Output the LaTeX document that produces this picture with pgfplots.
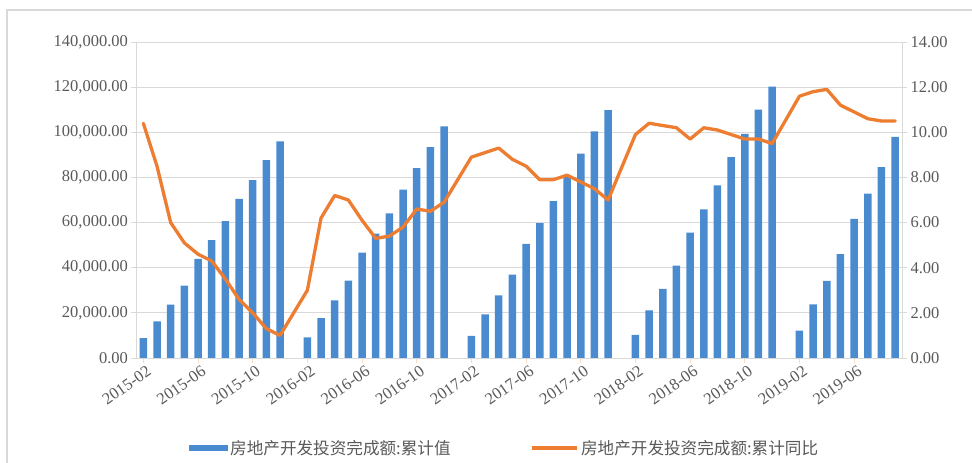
\documentclass[border=0pt]{standalone}
\usepackage{pgfplots}
\pgfplotsset{compat=1.18}
\usepackage{fontspec}
\setmainfont{Liberation Serif}
\newfontfamily\cjk{Noto Sans CJK SC}
\definecolor{barblue}{HTML}{4A8BD0}
\definecolor{lineorange}{HTML}{ED7D31}
\definecolor{gridgray}{HTML}{D9D9D9}
\definecolor{textgray}{HTML}{595959}
\begin{document}
\begin{tikzpicture}[x=1pt,y=1pt]
\useasboundingbox (0,0) rectangle (972,463);
\draw[gridgray, line width=1.2pt] (7,-20) -- (7,453) -- (990,453);
\begin{axis}[
  at={(143.33pt,105pt)}, anchor=origin,
  width=765.5pt, height=316pt, scale only axis,
  xmin=-0.5, xmax=55.5, ymin=0, ymax=140000,
  /pgf/number format/assume math mode=true,
  scaled y ticks=false,
  ytick={0,20000,...,140000},
  yticklabel={\pgfmathprintnumber[fixed,fixed zerofill,precision=2,1000 sep={,}]{\tick}},
  xtick={0,4,...,52},
  xticklabels={2015-02,2015-06,2015-10,2016-02,2016-06,2016-10,2017-02,2017-06,2017-10,2018-02,2018-06,2018-10,2019-02,2019-06},
  ymajorgrids, grid style={gridgray, line width=0.9pt},
  axis x line*=bottom, axis y line*=left,
  axis line style={gridgray, line width=0.9pt},
  tick style={gridgray, line width=0.9pt},
  xtick style={draw=lineorange!30, line width=0.8pt},
  tick align=outside, major tick length=5pt,
  ticklabel style={font=\fontsize{16.5}{18}\selectfont, text=textgray},
  xticklabel style={rotate=35, anchor=north east, inner sep=1pt, yshift=-2pt, xshift=2pt},
  legend style={at={(0.0647,-0.285)}, anchor=west, draw=none, fill=none,
    font=\cjk\fontsize{16.6}{18}\selectfont, text=textgray,
    /tikz/every even column/.append style={column sep=78pt}},
  legend columns=2,
]
\addplot[ybar, bar width=7.5pt, fill=barblue, draw=none,
  legend image code/.code={\fill[barblue] (0pt,-3pt) rectangle (39pt,3pt);}]
  coordinates {
  (0,8786) (1,16214) (2,23669) (3,32016) (4,43955) (5,52241) (6,60587) (7,70535) (8,78801) (9,87702) (10,95979)
  (12,9134) (13,17677) (14,25512) (15,34317) (16,46631) (17,55068) (18,64034) (19,74598) (20,84142) (21,93387) (22,102581)
  (24,9854) (25,19292) (26,27732) (27,36981) (28,50610) (29,59761) (30,69494) (31,80644) (32,90544) (33,100387) (34,109799)
  (36,10292) (37,21078) (38,30592) (39,40938) (40,55531) (41,65874) (42,76519) (43,88948) (44,99325) (45,110083) (46,120264)
  (48,12090) (49,23803) (50,34217) (51,46075) (52,61609) (53,72843) (54,84589) (55,98008)
  };
\addlegendentry{房地产开发投资完成额:累计值}
\addlegendimage{legend image code/.code={\draw[lineorange, line width=3.5pt] (0pt,0pt) -- (45pt,0pt);}}
\addlegendentry{房地产开发投资完成额:累计同比}
\end{axis}
\begin{axis}[
  at={(143.33pt,105pt)}, anchor=origin,
  width=765.5pt, height=316pt, scale only axis,
  xmin=-0.5, xmax=55.5, ymin=0, ymax=14,
  /pgf/number format/assume math mode=true,
  ytick={0,2,...,14},
  yticklabel={\pgfmathprintnumber[fixed,fixed zerofill,precision=2]{\tick}},
  axis x line=none, axis y line*=right,
  axis line style={gridgray, line width=0.9pt},
  tick style={gridgray, line width=0.9pt},
  tick align=outside, major tick length=5pt,
  ticklabel style={font=\fontsize{16.5}{18}\selectfont, text=textgray},
]
\addplot[lineorange, line width=3.3pt, line join=round, line cap=round, mark=none]
  coordinates {
  (0,10.4) (1,8.5) (2,6.0) (3,5.1) (4,4.6) (5,4.3) (6,3.5) (7,2.6) (8,2.0) (9,1.3) (10,1.0)
  (12,3.0) (13,6.2) (14,7.2) (15,7.0) (16,6.1) (17,5.3) (18,5.4) (19,5.8) (20,6.6) (21,6.5) (22,6.9)
  (24,8.9) (25,9.1) (26,9.3) (27,8.8) (28,8.5) (29,7.9) (30,7.9) (31,8.1) (32,7.8) (33,7.5) (34,7.0)
  (36,9.9) (37,10.4) (38,10.3) (39,10.2) (40,9.7) (41,10.2) (42,10.1) (43,9.9) (44,9.7) (45,9.7) (46,9.5)
  (48,11.6) (49,11.8) (50,11.9) (51,11.2) (52,10.9) (53,10.6) (54,10.5) (55,10.5)
  };
\end{axis}
\end{tikzpicture}
\end{document}
